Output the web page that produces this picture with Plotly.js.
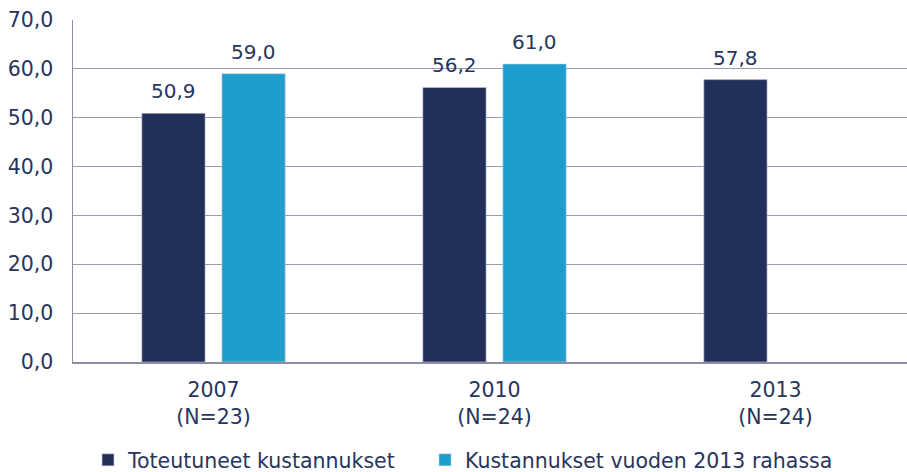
<!DOCTYPE html>
<html><head><meta charset="utf-8">
<script src="https://cdn.plot.ly/plotly-3.0.1.min.js"></script>
<style>html,body{margin:0;padding:0;background:#fff}#chart{width:907px;height:472px}</style>
</head><body><div id="chart"></div>
<script>
const categories = ["2007<br>(N=23)", "2010<br>(N=24)", "2013<br>(N=24)"];
const seriesNames = ["Toteutuneet kustannukset", "Kustannukset vuoden 2013 rahassa"];
const actualCosts = [50.9, 56.2, 57.8];
const costs2013Money = [59.0, 61.0, null];
const yTicks = [0, 10, 20, 30, 40, 50, 60, 70];

const textColor = "#27355e";
const fs = 20.5;
const fam = "DejaVu Sans, Verdana, sans-serif";
const font = {family: fam, size: fs, color: textColor};

const seriesValues = [actualCosts, costs2013Money];
const seriesColors = ["#222f5b", "#1f9ecd"];
const legendIds = ["legend", "legend2"];

const traces = seriesValues.map((vals, i) => ({
  type: "bar", name: seriesNames[i], x: categories, y: vals, legend: legendIds[i],
  marker: {color: seriesColors[i], line: {color: "#c8cbd8", width: 0.6}},
  hoverinfo: "none"
}));

// value labels, drawn through the axes from the data arrays
const labelShift = [-40, 40];
const annotations = [];
seriesValues.forEach((vals, i) => {
  vals.forEach((v, j) => {
    if (v === null) return;
    annotations.push({
      x: categories[j], y: v, xref: "x", yref: "y",
      text: v.toFixed(1).replace(".", ","), showarrow: false,
      xanchor: "center", yanchor: "bottom", xshift: labelShift[i], yshift: 8,
      font: {family: fam, size: 20, color: textColor}
    });
  });
});

const legendCommon = {orientation: "h", xref: "container", yref: "container",
  y: 12 / 472, yanchor: "middle", xanchor: "left", itemwidth: 30,
  font: {family: fam, size: fs, color: textColor}};

const layout = {
  width: 907, height: 472,
  margin: {l: 73, r: 0, t: 20, b: 110},
  paper_bgcolor: "#fff", plot_bgcolor: "#fff",
  separators: ", ",
  font: font,
  barmode: "group", bargap: 0.43, bargroupgap: 0.21,
  showlegend: true,
  legend: Object.assign({}, legendCommon, {x: 88 / 907}),
  legend2: Object.assign({}, legendCommon, {x: 425 / 907}),
  annotations: annotations,
  xaxis: {type: "category", range: [-0.5, 2.468], showgrid: false, showline: true,
          linecolor: "#8b8ea3", linewidth: 1.5, ticks: "", ticklabelstandoff: 9,
          tickfont: {family: fam, size: fs, color: textColor}},
  yaxis: {range: [0, 70], tickvals: yTicks, tickformat: ".1f", showgrid: true, gridcolor: "#9a9cae",
          gridwidth: 1, showline: true, linecolor: "#8b8ea3", linewidth: 1.5, zeroline: false,
          ticks: "", ticklen: 0, ticklabelstandoff: 14,
          tickfont: {family: fam, size: fs, color: textColor}}
};

Plotly.newPlot("chart", traces, layout, {displayModeBar: false, staticPlot: true});
</script></body></html>
